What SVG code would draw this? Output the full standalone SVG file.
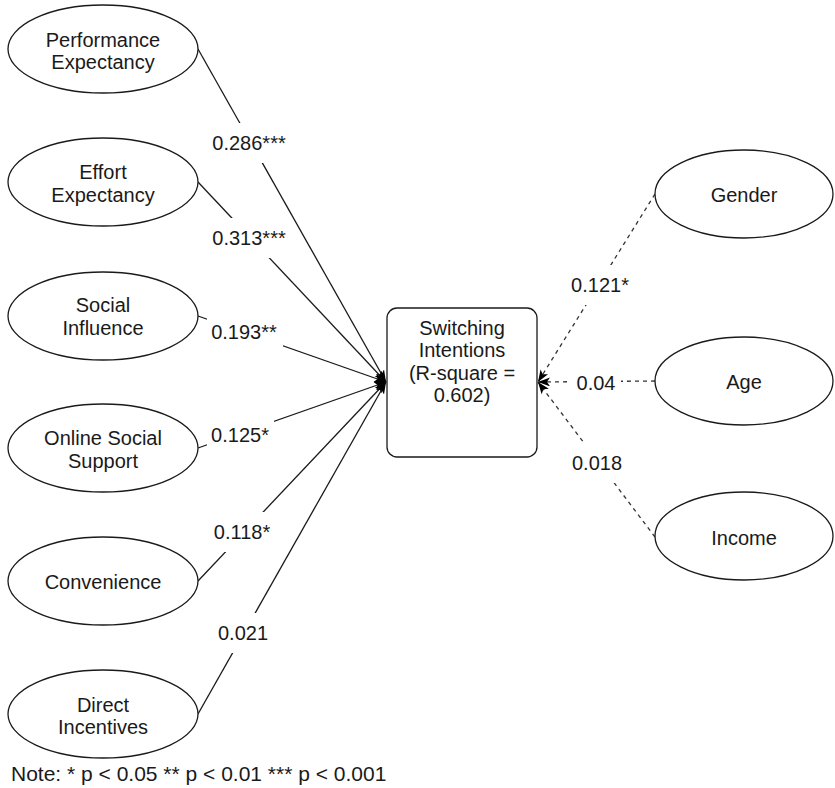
<svg xmlns="http://www.w3.org/2000/svg" width="835" height="788" viewBox="0 0 835 788">
<style>
  .node { fill: #ffffff; stroke: #1a1a1a; stroke-width: 1.3; }
  .t { font-family: "Liberation Sans", Arial, Helvetica, sans-serif; font-size: 20px; fill: #1a1a1a; text-anchor: middle; dominant-baseline: central; }
  .edge { fill: none; stroke: #1a1a1a; stroke-width: 1.3; }
  .dash { fill: none; stroke: #333333; stroke-width: 1.3; stroke-dasharray: 4 4; }
  .lbg { fill: #ffffff; stroke: none; }
  .note { font-family: "Liberation Sans", Arial, Helvetica, sans-serif; font-size: 21px; fill: #1a1a1a; dominant-baseline: central; }
</style>
<defs>
  <marker id="arrow" viewBox="0 0 12 9" markerUnits="userSpaceOnUse" markerWidth="12" markerHeight="9" refX="12" refY="4.5" orient="auto">
    <path d="M0,0 L12,4.5 L0,9 L3,4.5 Z" fill="#000000"/>
  </marker>
</defs>
<rect x="0" y="0" width="835" height="788" fill="#ffffff"/>

<g id="connectors">
  <line class="edge" x1="198" y1="49" x2="386" y2="382" marker-end="url(#arrow)"/>
  <line class="edge" x1="198" y1="182" x2="386" y2="382" marker-end="url(#arrow)"/>
  <line class="edge" x1="198" y1="316" x2="386" y2="382" marker-end="url(#arrow)"/>
  <line class="edge" x1="198" y1="448" x2="386" y2="382" marker-end="url(#arrow)"/>
  <line class="edge" x1="198" y1="581" x2="386" y2="382" marker-end="url(#arrow)"/>
  <line class="edge" x1="198" y1="714" x2="386" y2="382" marker-end="url(#arrow)"/>
  <line class="dash" x1="655" y1="194" x2="538" y2="382" marker-end="url(#arrow)"/>
  <line class="dash" x1="655" y1="381" x2="538" y2="382" marker-end="url(#arrow)"/>
  <line class="dash" x1="655" y1="537" x2="538" y2="382" marker-end="url(#arrow)"/>

  <rect class="lbg" x="208" y="123" width="82" height="40"/>
  <text class="t" x="249" y="143">0.286***</text>
  <rect class="lbg" x="208" y="218" width="82" height="40"/>
  <text class="t" x="249" y="238">0.313***</text>
  <rect class="lbg" x="207" y="314" width="76" height="36"/>
  <text class="t" x="244" y="332">0.193**</text>
  <rect class="lbg" x="207" y="417" width="67" height="36"/>
  <text class="t" x="240" y="435">0.125*</text>
  <rect class="lbg" x="210" y="512" width="64" height="40"/>
  <text class="t" x="242" y="532">0.118*</text>
  <rect class="lbg" x="215" y="613" width="56" height="40"/>
  <text class="t" x="243" y="633">0.021</text>
  <rect class="lbg" x="567" y="265" width="66" height="40"/>
  <text class="t" x="600" y="285">0.121*</text>
  <rect class="lbg" x="571" y="365" width="50" height="36"/>
  <text class="t" x="596" y="383">0.04</text>
  <rect class="lbg" x="570" y="443" width="54" height="40"/>
  <text class="t" x="597" y="463">0.018</text>
</g>

<g id="performance-expectancy">
  <ellipse class="node" cx="103" cy="49" rx="95" ry="44"/>
  <text class="t" x="103" y="40">Performance</text>
  <text class="t" x="103" y="62">Expectancy</text>
</g>
<g id="effort-expectancy">
  <ellipse class="node" cx="103" cy="182" rx="95" ry="44"/>
  <text class="t" x="103" y="172">Effort</text>
  <text class="t" x="103" y="195">Expectancy</text>
</g>
<g id="social-influence">
  <ellipse class="node" cx="103" cy="316" rx="95" ry="44"/>
  <text class="t" x="103" y="305">Social</text>
  <text class="t" x="103" y="328">Influence</text>
</g>
<g id="online-social-support">
  <ellipse class="node" cx="103" cy="448" rx="95" ry="44"/>
  <text class="t" x="103" y="438">Online Social</text>
  <text class="t" x="103" y="461">Support</text>
</g>
<g id="convenience">
  <ellipse class="node" cx="103" cy="581" rx="95" ry="44"/>
  <text class="t" x="103" y="582">Convenience</text>
</g>
<g id="direct-incentives">
  <ellipse class="node" cx="103" cy="714" rx="95" ry="44"/>
  <text class="t" x="103" y="705">Direct</text>
  <text class="t" x="103" y="727">Incentives</text>
</g>

<g id="switching-intentions">
  <rect class="node" x="387" y="308" width="150" height="149" rx="10" ry="10"/>
  <text class="t" x="462" y="328">Switching</text>
  <text class="t" x="462" y="350">Intentions</text>
  <text class="t" x="462" y="373">(R-square =</text>
  <text class="t" x="462" y="395">0.602)</text>
</g>

<g id="gender">
  <ellipse class="node" cx="744" cy="194" rx="89" ry="44"/>
  <text class="t" x="744" y="195">Gender</text>
</g>
<g id="age">
  <ellipse class="node" cx="744" cy="381" rx="89" ry="44"/>
  <text class="t" x="744" y="382">Age</text>
</g>
<g id="income">
  <ellipse class="node" cx="744" cy="536" rx="89" ry="44"/>
  <text class="t" x="744" y="538">Income</text>
</g>

<g id="note">
  <text class="note" x="11" y="773">Note: * p &lt; 0.05 ** p &lt; 0.01 *** p &lt; 0.001</text>
</g>
</svg>
